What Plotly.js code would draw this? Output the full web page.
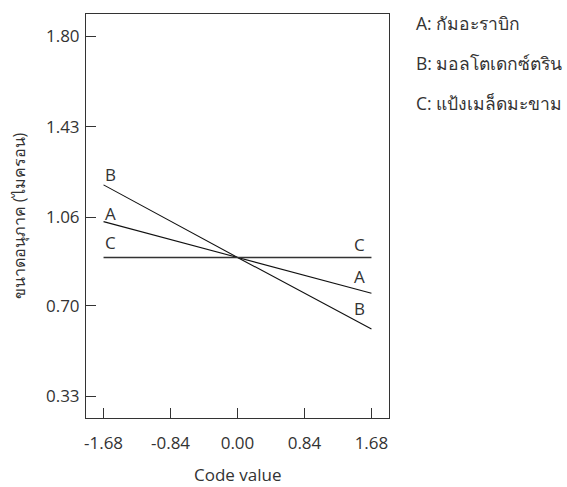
<!DOCTYPE html>
<html>
<head>
<meta charset="utf-8">
<script src="https://cdn.plot.ly/plotly-3.0.1.min.js"></script>
<style>html,body{margin:0;padding:0;background:#fff;}#chart{width:567px;height:487px;}</style>
</head>
<body>
<div id="chart"></div>
<script>
// Data
const codeValues = [-1.68, 0.00, 1.68];
const seriesA = [1.043, 0.897, 0.751];   // A: กัมอะราบิก
const seriesB = [1.193, 0.897, 0.605];   // B: มอลโตเดกซ์ตริน
const seriesC = [0.897, 0.897, 0.897];   // C: แป้งเมล็ดมะขาม
const seriesNames = ['A', 'B', 'C'];
const legendLabels = ['A: กัมอะราบิก', 'B: มอลโตเดกซ์ตริน', 'C: แป้งเมล็ดมะขาม'];
const xTickVals = [-1.68, -0.84, 0.00, 0.84, 1.68];
const xTickText = ['-1.68', '-0.84', '0.00', '0.84', '1.68'];
const yTickVals = [0.33, 0.70, 1.06, 1.43, 1.80];
const yTickText = ['0.33', '0.70', '1.06', '1.43', '1.80'];
const xTitle = 'Code value';
const yTitle = 'ขนาดอนุภาค (ไมครอน)';

const FONT = '"Open Sans", "Noto Sans", "DejaVu Sans", sans-serif';
const TXT = '#333';
const series = [seriesA, seriesB, seriesC];

// label pixel offsets (style only)
const leftYShift = [-5, -3, 1];
const rightYShift = [3, 7, -1];

const traces = series.map((ys, i) => ({
  x: codeValues, y: ys, type: 'scatter', mode: 'lines',
  name: seriesNames[i],
  line: {color: i === 2 ? '#333' : '#111', width: i === 2 ? 1.4 : 1.1},
  hoverinfo: 'skip', showlegend: false
}));

const annotations = [];
series.forEach((ys, i) => {
  const n = seriesNames[i];
  annotations.push({x: codeValues[0], y: ys[0], xref: 'x', yref: 'y', text: n,
    showarrow: false, xanchor: 'left', yanchor: 'bottom', xshift: -1, yshift: leftYShift[i],
    font: {family: FONT, size: 17, color: TXT}});
  annotations.push({x: codeValues[codeValues.length - 1], y: ys[ys.length - 1], xref: 'x', yref: 'y', text: n,
    showarrow: false, xanchor: 'right', yanchor: 'bottom', xshift: -4, yshift: rightYShift[i],
    font: {family: FONT, size: 17, color: TXT}});
});
legendLabels.forEach((t, i) => {
  annotations.push({x: 1.083, y: 0.9765 - i * 0.0989, xref: 'paper', yref: 'paper', text: t,
    showarrow: false, xanchor: 'left', yanchor: 'middle',
    font: {family: FONT, size: 17.5, color: TXT}});
});
// x-axis title as annotation for exact placement
annotations.push({x: 0.5, y: 0, xref: 'paper', yref: 'paper', text: xTitle,
  showarrow: false, xanchor: 'center', yanchor: 'middle', yshift: -56,
  font: {family: FONT, size: 17, color: TXT}});

const layout = {
  width: 567, height: 487,
  margin: {l: 86, r: 178, t: 14, b: 69},
  paper_bgcolor: '#fff', plot_bgcolor: '#fff',
  font: {family: FONT, size: 17, color: TXT},
  showlegend: false,
  xaxis: {
    range: [-1.9, 1.9], tickvals: xTickVals, ticktext: xTickText,
    ticks: 'inside', ticklen: 10, tickcolor: '#333', tickwidth: 1,
    showline: true, linecolor: '#333', linewidth: 1, mirror: true,
    showgrid: false, zeroline: false, ticklabelstandoff: 10,
    tickfont: {family: FONT, size: 17, color: TXT}
  },
  yaxis: {
    range: [0.242, 1.89], tickvals: yTickVals, ticktext: yTickText,
    ticks: 'inside', ticklen: 10, tickcolor: '#333', tickwidth: 1,
    showline: true, linecolor: '#333', linewidth: 1, mirror: true,
    showgrid: false, zeroline: false, ticklabelstandoff: 2,
    tickfont: {family: FONT, size: 17, color: TXT},
    title: {text: yTitle, font: {family: FONT, size: 16, color: TXT}, standoff: 16}
  },
  annotations: annotations
};

Plotly.newPlot('chart', traces, layout, {displayModeBar: false, staticPlot: true});
</script>
</body>
</html>
